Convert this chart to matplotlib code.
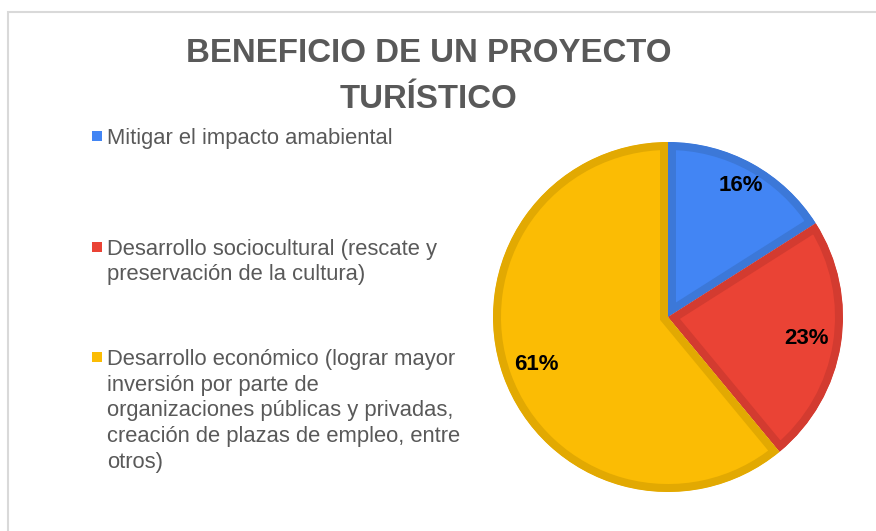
import textwrap
import numpy as np
import matplotlib.pyplot as plt
from matplotlib.patches import Rectangle

title = 'BENEFICIO DE UN PROYECTO\nTURÍSTICO'
labels = ['Mitigar el impacto amabiental',
          'Desarrollo sociocultural (rescate y preservación de la cultura)',
          'Desarrollo económico (lograr mayor inversión por parte de '
          'organizaciones públicas y privadas, creación de plazas de empleo, entre otros)']
values = [16, 23, 61]
colors = ['#4285F4', '#EA4335', '#FBBC04']
edge_colors = ['#3C78D8', '#D33B30', '#E2A902']

plt.rcParams['font.family'] = ['Liberation Sans', 'DejaVu Sans']

W, H = 876, 531
fig = plt.figure(figsize=(W / 100, H / 100), dpi=100)

# chart frame, only the top and left edges are in the crop
fig.patches.append(Rectangle((8 / W, -0.5), 2, 1.5 - 12 / H, transform=fig.transFigure,
                             fill=False, edgecolor='#D9D9D9', linewidth=1.5))

# legend drawn in a pixel-space overlay axes
lax = fig.add_axes([0, 0, 1, 1])
lax.set_xlim(0, W)
lax.set_ylim(H, 0)
lax.axis('off')
for i, (lab, col) in enumerate(zip(labels, colors)):
    top = 128 + 110.5 * i
    lax.scatter(97, top + 8, marker='s', s=52, color=col, linewidths=0)
    lax.text(107, top, textwrap.fill(lab, 35), va='top', ha='left',
             fontsize=15.8, color='#595959', linespacing=1.29)

fig.text(429 / W, 1 - 38 / H, title, ha='center', va='top', fontsize=23.8,
         fontweight='bold', color='#595959', linespacing=1.62)

# pie, borders drawn as an inner stroke by clipping each wedge to itself
cx, cy, R = 668, 317, 175
ax = fig.add_axes([(cx - R) / W, 1 - (cy + R) / H, 2 * R / W, 2 * R / H])
wedges, texts, autotexts = ax.pie(values, colors=colors, startangle=90, counterclock=False,
                                  autopct='%1.0f%%', pctdistance=0.8,
                                  wedgeprops=dict(linewidth=11.5),
                                  textprops=dict(fontsize=16, fontweight='bold', color='black'))
for w, ec in zip(wedges, edge_colors):
    w.set_edgecolor(ec)
    w.set_clip_path(w)
    w.set_clip_on(True)
ang = np.deg2rad(90 - 180 * values[0] / 100)
autotexts[0].set_position((0.86 * np.cos(ang), 0.86 * np.sin(ang)))
ax.set_xlim(-1, 1)
ax.set_ylim(-1, 1)

fig.savefig('out.png', dpi=100)
